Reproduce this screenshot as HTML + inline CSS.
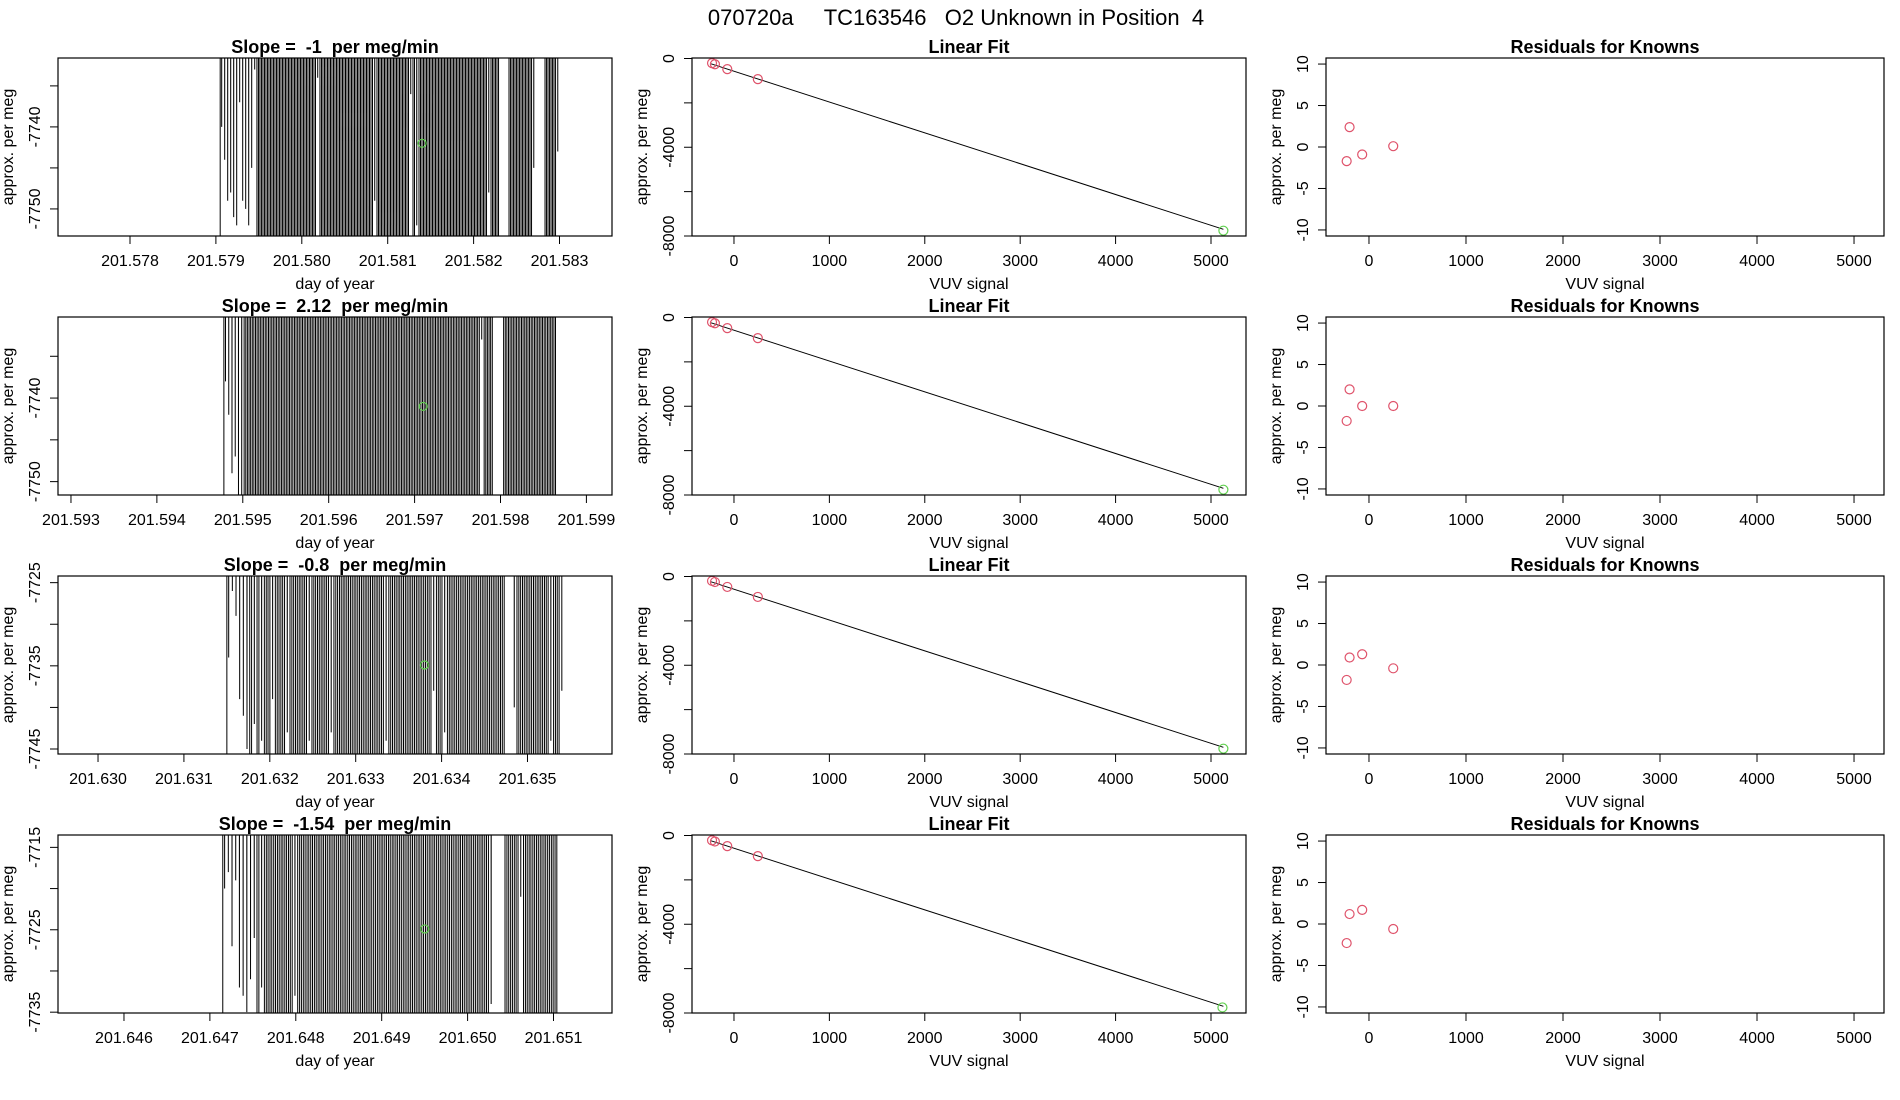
<!DOCTYPE html>
<html><head><meta charset="utf-8"><style>
html,body{margin:0;padding:0;background:#fff;width:1900px;height:1100px;overflow:hidden;}
svg{display:block;font-family:"Liberation Sans",Arial,sans-serif;}
text{white-space:pre;}
</style></head><body>
<svg id="chart" width="1900" height="1100" xmlns="http://www.w3.org/2000/svg">
<text x="956" y="25" text-anchor="middle" font-size="22" style="white-space:pre">070720a     TC163546   O2 Unknown in Position  4</text>
</svg>
<script>
const H = -7000, L = -8500;
// time-series panels
const slopeLabels = ["-1", "2.12", "-0.8", "-1.54"];
const tsStart = [201.57905, 201.59478, 201.6315, 201.64715];
const tsEnd = [201.58298, 201.59865, 201.6354, 201.65105];
const tsXDomain = [[201.577162,201.583611],[201.592849,201.599298],[201.629534,201.635984],[201.645232,201.651681]];
const tsYDomain = [[-7753.3,-7731.6],[-7751.6,-7730.3],[-7745.6,-7724.2],[-7735.1,-7713.5]];
const tsXTicks = [
  [201.578,201.579,201.580,201.581,201.582,201.583],
  [201.593,201.594,201.595,201.596,201.597,201.598,201.599],
  [201.630,201.631,201.632,201.633,201.634,201.635],
  [201.646,201.647,201.648,201.649,201.650,201.651]];
const tsYTicks = [[-7735,-7740,-7745,-7750],[-7735,-7740,-7745,-7750],[-7725,-7730,-7735,-7740,-7745],[-7715,-7720,-7725,-7730,-7735]];
const tsYLabels = [[-7740,-7750],[-7740,-7750],[-7725,-7735,-7745],[-7715,-7725,-7735]];
const tsGreenX = [201.5814, 201.5971, 201.6338, 201.6495];
const tsGreenY = [-7742, -7741, -7734.9, -7724.9];
const series1 = [H,-7740,H,-7744,H,-7749,H,-7748,H,-7751,H,-7752,H,-7737,H,-7749,H,-7750,H,-7752,H,-7745,H,-7733,H,L,H,L,H,L,H,L,H,L,H,L,H,L,H,L,
 H,L,H,L,H,L,H,L,H,L,H,L,H,L,H,L,H,L,H,L,H,L,H,L,H,-7734,H,L,H,L,H,L,H,L,H,L,H,L,H,L,
 H,L,H,L,H,L,H,L,H,L,H,L,H,L,H,L,H,L,H,L,H,L,H,-7749,H,L,H,L,H,L,H,L,H,L,H,L,H,L,H,L,
 H,L,H,L,H,L,H,-7736,H,L,H,-7752,H,L,H,L,H,L,H,L,H,L,H,L,H,L,H,L,H,L,H,L,H,L,H,L,H,L,H,L,
 H,L,H,L,H,L,H,L,H,L,H,L,H,L,H,L,H,L,H,-7748,H,L,H,L,H,L,H,H,H,H,H,H,H,L,H,L,H,L,H,L,H,L,
 H,L,H,L,H,L,H,-7745,H,H,H,H,H,H,H,L,H,L,H,L,H,L,H,-7743];
const series2 = [H,-7738,H,-7742,H,-7749,H,-7747,H,-7752,H,-7753,H,L,H,L,H,L,H,L,H,L,H,L,H,L,H,L,H,L,H,L,H,L,H,L,H,L,H,L,
 H,L,H,L,H,L,H,L,H,L,H,L,H,L,H,L,H,L,H,L,H,L,H,L,H,L,H,L,H,L,H,L,H,L,H,L,H,L,H,L,H,L,
 H,L,H,L,H,L,H,L,H,L,H,L,H,L,H,L,H,L,H,L,H,L,H,L,H,L,H,L,H,L,H,L,H,L,H,L,H,L,H,L,H,L,
 H,L,H,L,H,L,H,L,H,L,H,L,H,L,H,L,H,L,H,L,H,L,H,L,H,L,H,L,H,L,H,L,H,L,H,-7733,H,L,H,L,H,L,
 H,H,H,H,H,H,H,L,H,L,H,L,H,L,H,L,H,L,H,L,H,L,H,L,H,L,H,L,H,L,H,L,H,L,H,L,H,L,H,L];
const series3 = [H,-7734,H,-7726,H,-7729,H,-7739,H,-7741,H,-7745,H,L,H,-7742,H,L,H,-7744,H,L,H,L,H,-7739,H,L,H,L,H,L,H,-7743,H,L,
 H,L,H,L,H,L,H,L,H,-7744,H,L,H,L,H,L,H,L,H,L,H,-7743,H,L,H,L,H,L,H,L,H,L,H,L,H,L,H,L,
 H,L,H,L,H,L,H,L,H,L,H,L,H,-7744,H,L,H,L,H,L,H,L,H,L,H,L,H,L,H,L,H,L,H,L,H,L,H,L,
 H,-7738,H,L,H,L,H,-7743,H,L,H,L,H,L,H,L,H,L,H,L,H,L,H,L,H,L,H,L,H,L,H,L,H,L,H,L,
 H,L,H,L,H,H,H,H,H,-7740,H,L,H,L,H,L,H,L,H,L,H,L,H,L,H,L,H,L,H,-7744,H,L,H,L,H,-7738];
const series4 = [H,-7720,H,-7718,H,-7727,H,-7719,H,-7732,H,-7733,H,-7735,H,-7731,H,-7726,H,L,H,-7732,H,L,H,L,H,L,H,L,H,L,
 H,L,H,L,H,L,H,-7733,H,L,H,L,H,L,H,L,H,L,H,L,H,L,H,L,H,L,H,L,H,L,H,L,H,L,H,L,H,L,H,L,
 H,L,H,L,H,L,H,L,H,L,H,L,H,L,H,L,H,L,H,L,H,L,H,L,H,L,H,L,H,L,H,L,H,L,H,L,H,L,H,L,
 H,L,H,L,H,L,H,L,H,L,H,L,H,L,H,L,H,L,H,L,H,L,H,L,H,L,H,L,H,L,H,L,H,-7734,H,H,H,H,H,H,
 H,L,H,L,H,L,H,L,H,-7721,H,L,H,L,H,L,H,L,H,L,H,L,H,L,H,L,H,L,H,L];
const tsSeries = [series1, series2, series3, series4];
// linear fit panels
const knownX = [[-230,-200,-70,250],[-230,-200,-70,250],[-230,-200,-70,250],[-230,-200,-70,250]];
const knownY = [[-210,-260,-480,-930],[-210,-260,-480,-930],[-200,-250,-470,-920],[-220,-270,-480,-930]];
const unkX = [5130,5130,5130,5120];
const unkY = [-7760,-7760,-7760,-7750];
const fitIntercept = [-573,-573,-573,-573];
const fitSlope = [-1.389,-1.389,-1.389,-1.389];
const fitXRange = [-240,5130];
const fitYTicks = [0,-2000,-4000,-6000,-8000];
const fitYLabels = [0,-4000,-8000];
const vuvTicks = [0,1000,2000,3000,4000,5000];
// residuals
const residY = [[-1.7,2.4,-0.9,0.1],[-1.8,2.0,0,0],[-1.8,0.9,1.3,-0.4],[-2.3,1.2,1.7,-0.6]];
const residTicks = [-10,-5,0,5,10];

const NS = "http://www.w3.org/2000/svg";
const svg = document.getElementById('chart');
const rowTop = [58,317,576,835];
const PH = 178;
const RED = "#DF536B", GREEN = "#61D04F";
function el(tag, attrs, parent, text){
  const e = document.createElementNS(NS, tag);
  for (const k in attrs) e.setAttribute(k, attrs[k]);
  if (text !== undefined) e.textContent = text;
  (parent || svg).appendChild(e);
  return e;
}
function scale(d0,d1,r0,r1){ return v => r0 + (v-d0)/(d1-d0)*(r1-r0); }

function axes(g, x0, x1, top, xs, ys, xTicks, xFmt, yTicks, yLabels, yFmt, title, xTitle){
  const bot = top + PH;
  const box = el('rect',{x:x0,y:top,width:x1-x0,height:PH,fill:'none',stroke:'#000','stroke-width':1.2},g);
  
  
  xTicks.forEach(t=>{
    const x = xs(t);
    const tk = el('line',{x1:x,x2:x,y1:bot,y2:bot+8,stroke:'#000'},g);
    
    
    const lb = el('text',{x:x,y:bot+30,'text-anchor':'middle','font-size':16},g,xFmt(t));
    
    
  });
  yTicks.forEach(t=>{
    const y = ys(t);
    const tk = el('line',{x1:x0-8,x2:x0,y1:y,y2:y,stroke:'#000'},g);
    
    
  });
  yLabels.forEach(t=>{
    const y = ys(t), xx = x0-18;
    const lb = el('text',{x:xx,y:y,'text-anchor':'middle','font-size':16,transform:`rotate(-90 ${xx} ${y})`},g,yFmt(t));
    
    
  });
  const tt = el('text',{x:(x0+x1)/2,y:top-5,'text-anchor':'middle','font-size':18,'font-weight':'bold',style:'white-space:pre'},g,title);
  
  
  const xt = el('text',{x:(x0+x1)/2,y:bot+53,'text-anchor':'middle','font-size':16},g,xTitle);
  
  
  const yx = x0-45, yy = top+PH/2;
  const yt = el('text',{x:yx,y:yy,'text-anchor':'middle','font-size':16,transform:`rotate(-90 ${yx} ${yy})`},g,'approx. per meg');
  
  
}

for (let r=0;r<4;r++){
  const top = rowTop[r], bot = top+PH;
  {
    const x0=58,x1=612;
    const g = el('g',{});
    
    
    const xs = scale(tsXDomain[r][0],tsXDomain[r][1],x0,x1);
    const ys = scale(tsYDomain[r][0],tsYDomain[r][1],bot,top);
    const cp = el('clipPath',{id:'clip'+r},g);
    el('rect',{x:x0,y:top,width:x1-x0,height:PH},cp);
    const vals = tsSeries[r];
    const n = vals.length;
    const dt = (tsEnd[r]-tsStart[r])/(n-1);
    let d = `M${x0} ${ys(L)} L${xs(tsStart[r])} ${ys(L)}`;
    for (let i=0;i<n;i++) d += ` L${xs(tsStart[r]+i*dt).toFixed(2)} ${ys(vals[i]).toFixed(2)}`;
    const p = el('path',{d:d,fill:'none',stroke:'#000','stroke-width':1,'clip-path':`url(#clip${r})`},g);
    
    
    const c = el('circle',{cx:xs(tsGreenX[r]),cy:ys(tsGreenY[r]),r:4,fill:'none',stroke:GREEN,'stroke-width':1.2},g);
    
    
    axes(g,x0,x1,top,xs,ys,tsXTicks[r],t=>t.toFixed(3),tsYTicks[r],tsYLabels[r],t=>String(t),
      'Slope =  '+slopeLabels[r]+'  per meg/min','day of year');
  }
  {
    const x0=692,x1=1246;
    const g = el('g',{});
    
    
    const xs = scale(-440,5367,x0,x1);
    const ys = scale(-8000,0,bot,top+0.5);
    const ln = el('line',{x1:xs(fitXRange[0]),y1:ys(fitIntercept[r]+fitSlope[r]*fitXRange[0]),x2:xs(fitXRange[1]),y2:ys(fitIntercept[r]+fitSlope[r]*fitXRange[1]),stroke:'#000','stroke-width':1},g);
    
    
    knownX[r].forEach((v,i)=>{
      const c = el('circle',{cx:xs(v),cy:ys(knownY[r][i]),r:4.5,fill:'none',stroke:RED,'stroke-width':1.2},g);
      
      
    });
    const c = el('circle',{cx:xs(unkX[r]),cy:ys(unkY[r]),r:4.5,fill:'none',stroke:GREEN,'stroke-width':1.2},g);
    
    
    axes(g,x0,x1,top,xs,ys,vuvTicks,t=>String(t),fitYTicks,fitYLabels,t=>String(t),'Linear Fit','VUV signal');
  }
  {
    const x0=1326,x1=1884;
    const g = el('g',{});
    
    
    const xs = scale(-443,5309,x0,x1);
    const ys = scale(-10.73,10.73,bot,top);
    knownX[r].forEach((v,i)=>{
      const c = el('circle',{cx:xs(v),cy:ys(residY[r][i]),r:4.5,fill:'none',stroke:RED,'stroke-width':1.2},g);
      
      
    });
    axes(g,x0,x1,top,xs,ys,vuvTicks,t=>String(t),residTicks,residTicks,t=>String(t),'Residuals for Knowns','VUV signal');
  }
}
</script>
</body></html>
